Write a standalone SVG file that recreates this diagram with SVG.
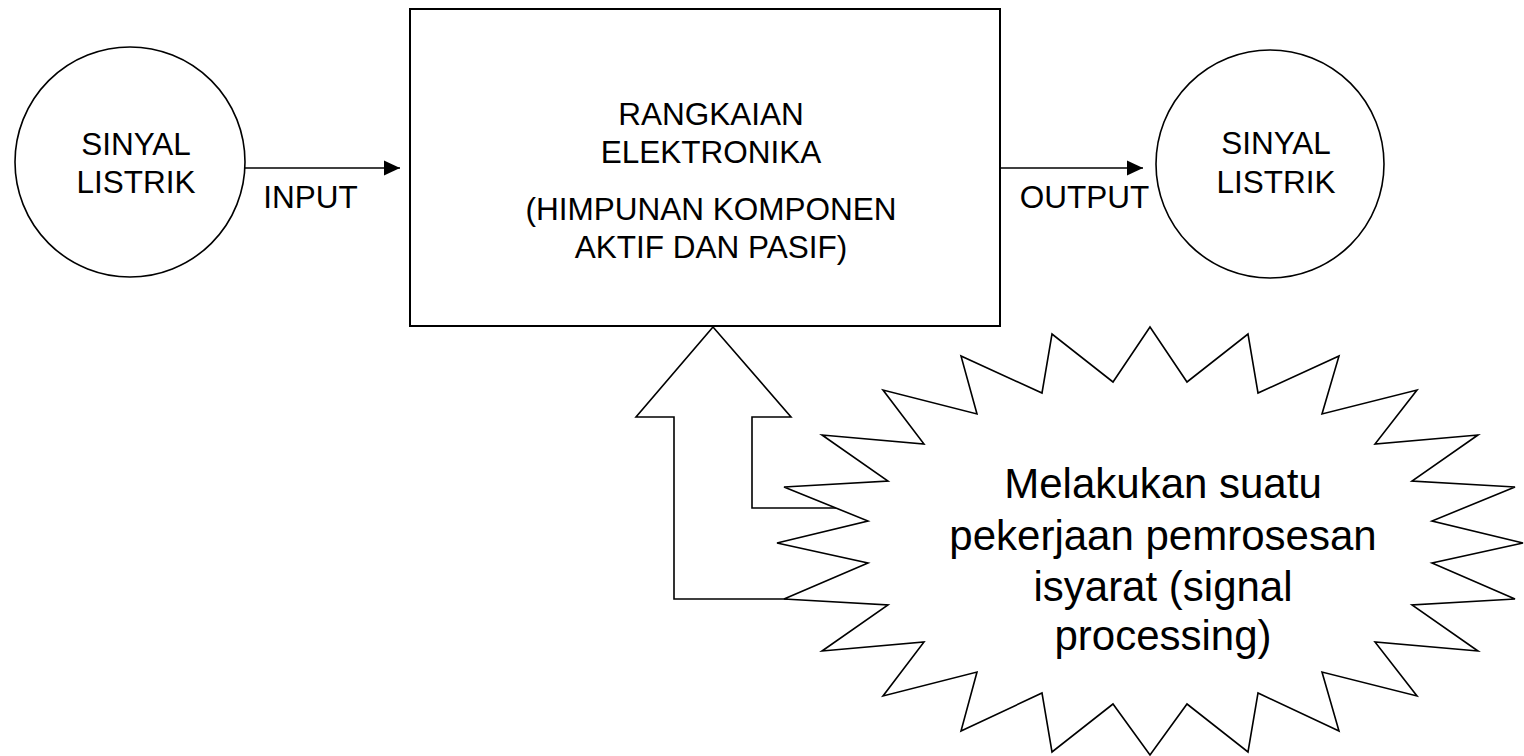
<svg xmlns="http://www.w3.org/2000/svg" width="1524" height="756" viewBox="0 0 1524 756">
  <defs>
    <style>
      .shape { fill: #ffffff; stroke: #000000; stroke-width: 1.6; }
      .box { fill: #ffffff; stroke: #000000; stroke-width: 2; }
      .line { fill: none; stroke: #000000; stroke-width: 1.6; }
      .lbl { font-family: "Liberation Sans", Arial, sans-serif; font-size: 31.5px; fill: #000000; text-anchor: middle; }
      .big { font-family: "Liberation Sans", Arial, sans-serif; font-size: 42px; fill: #000000; text-anchor: middle; }
    </style>
    <marker id="arrow" viewBox="0 0 16 16" refX="16" refY="8" markerWidth="16" markerHeight="16" markerUnits="userSpaceOnUse" orient="auto">
      <path d="M0,0.5 L16,8 L0,15.5 Z" fill="#000000"/>
    </marker>
  </defs>
  <rect x="0" y="0" width="1524" height="756" fill="#ffffff"/>

  <g id="connectors">
    <line class="line" x1="245" y1="168" x2="400" y2="168" marker-end="url(#arrow)"/>
    <text class="lbl" x="310.5" y="208">INPUT</text>
    <line class="line" x1="1000" y1="168" x2="1143" y2="168" marker-end="url(#arrow)"/>
    <text class="lbl" x="1084.5" y="208">OUTPUT</text>
    <polygon id="block-arrow" class="shape" points="713,327 791,417 752,417 752,508 900,508 900,599 674,599 674,417 636,417"/>
  </g>

  <g id="node-input-signal">
    <circle class="shape" cx="130" cy="162" r="115"/>
    <text class="lbl" x="136" y="155">SINYAL</text>
    <text class="lbl" x="136" y="193">LISTRIK</text>
  </g>

  <g id="node-circuit">
    <rect class="box" x="410" y="9" width="590" height="317"/>
    <text class="lbl" x="711" y="125">RANGKAIAN</text>
    <text class="lbl" x="711" y="163">ELEKTRONIKA</text>
    <text class="lbl" x="711" y="220">(HIMPUNAN KOMPONEN</text>
    <text class="lbl" x="711" y="258">AKTIF DAN PASIF)</text>
  </g>

  <g id="node-output-signal">
    <circle class="shape" cx="1270" cy="164" r="114"/>
    <text class="lbl" x="1276" y="154">SINYAL</text>
    <text class="lbl" x="1276" y="193">LISTRIK</text>
  </g>

  <g id="node-processing">
    <polygon class="shape" points="1150,327 1187,382 1248,334 1258,393 1339,356 1322,414 1417,390 1375,444 1478,435 1412,481 1515,487 1432,521 1523,543 1432,563 1515,599 1412,605 1478,651 1375,642 1417,696 1322,672 1339,731 1258,693 1248,752 1187,704 1150,755 1113,704 1052,752 1042,693 961,731 977,672 883,696 924,642 822,651 888,605 784,599 868,563 777,543 868,521 784,487 888,481 822,435 924,444 883,390 977,414 961,356 1042,393 1052,334 1113,382"/>
    <text class="big" x="1163" y="498">Melakukan suatu</text>
    <text class="big" x="1163" y="550">pekerjaan pemrosesan</text>
    <text class="big" x="1163" y="601">isyarat (signal</text>
    <text class="big" x="1163" y="650">processing)</text>
  </g>
</svg>
